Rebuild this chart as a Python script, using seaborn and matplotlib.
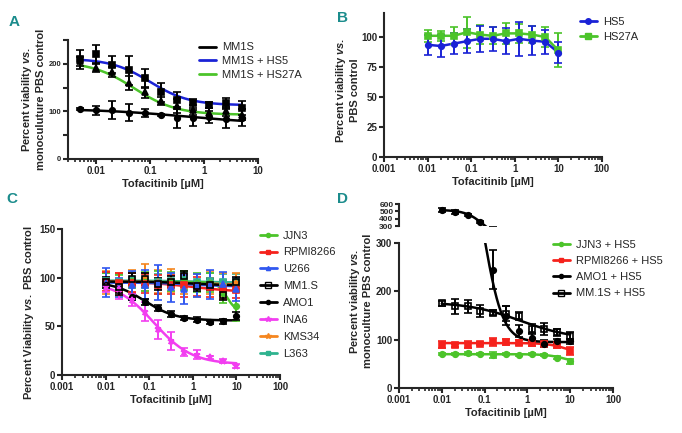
import numpy as np
import pandas as pd
import matplotlib
matplotlib.use("Agg")
import matplotlib.pyplot as plt
import seaborn as sns
from matplotlib.lines import Line2D
from matplotlib.ticker import MultipleLocator, FixedLocator

# doses (uM)
dose_a = [0.005, 0.01, 0.02, 0.04, 0.08, 0.16, 0.31, 0.625, 1.25, 2.5, 5]
dose = [0.01, 0.02, 0.04, 0.08, 0.16, 0.31, 0.625, 1.25, 2.5, 5, 10]

# panel A: mean, sem, fit (top, bottom, ec50, hill)
mm1s_mean = [105, 102, 103, 97, 96, 92, 86, 86, 88, 85, 87]
mm1s_err = [2, 9, 18, 18, 8, 2, 20, 17, 12, 20, 18]
mm1s_fit = [106, 72, 0.5, 0.5]
mm1s_hs5_mean = [210, 220, 198, 186, 170, 140, 125, 117, 113, 118, 107]
mm1s_hs5_err = [20, 20, 18, 30, 20, 20, 15, 10, 6, 10, 15]
mm1s_hs5_fit = [211, 113, 0.1, 1.2]
mm1s_hs27a_mean = [205, 192, 183, 160, 140, 122, 112, 103, 97, 100, 93]
mm1s_hs27a_err = [10, 10, 10, 15, 12, 8, 15, 10, 10, 10, 12]
mm1s_hs27a_fit = [205, 93, 0.05, 1.1]

# panel B
hs5_mean = [93.5, 92.5, 94.5, 96.5, 98.5, 98.5, 96.5, 98.5, 97, 96, 87]
hs5_err = [8.5, 9.5, 9, 10, 11, 10, 11, 14, 12, 10, 9]
hs27a_mean = [101, 101, 101, 104, 102, 101, 103, 103, 102, 100, 89]
hs27a_err = [5, 4, 7, 13, 8, 7, 9, 8, 7, 8, 14]

# panel C
jjn3_mean = [97, 95, 97, 96, 95, 96, 97, 95, 95, 84, 71]
jjn3_err = [8, 8, 8, 10, 12, 10, 10, 10, 10, 10, 15]
jjn3_fit = [95.5, 65, 6, 4]
rpmi_mean = [96, 95, 95, 94, 93, 93, 92, 91, 90, 88, 87]
rpmi_err = [10, 10, 10, 10, 10, 10, 12, 10, 10, 10, 8]
rpmi_fit = [96, 85, 1, 0.8]
u266_mean = [95, 90, 92, 93, 95, 90, 88, 92, 93, 94, 88]
u266_err = [15, 10, 15, 15, 18, 15, 15, 12, 15, 12, 12]
u266_fit = [95, 91, 1, 1]
mm1s_c_mean = [96, 90, 99, 99, 93.5, 96, 101.5, 91, 93, 82.5, 96]
mm1s_c_err = [5, 8, 6, 6, 6, 6, 5, 5, 6, 5, 5]
mm1s_c_fit = [96, 92, 1, 1]
amo1_mean = [92, 88, 80, 75, 69, 63, 59, 57, 54, 55, 61]
amo1_err = [3, 4, 3, 3, 3, 3, 2, 3, 2, 3, 4]
amo1_fit = [96, 56, 0.08, 1.2]
ina6_mean = [90, 88, 77, 65, 47, 35, 24, 21, 18, 14, 9]
ina6_err = [5, 10, 6, 10, 10, 9, 4, 5, 2, 2, 2]
ina6_fit = [96, 11, 0.13, 1.0]
kms34_mean = [95, 93, 96, 100, 96, 97, 95, 92, 95, 93, 95]
kms34_err = [12, 12, 12, 14, 12, 12, 12, 12, 12, 12, 10]
kms34_fit = [96, 93, 1, 1]
l363_mean = [97, 96, 98, 97, 96, 97, 98, 96, 97, 96, 96]
l363_err = [8, 8, 8, 8, 8, 8, 8, 8, 8, 8, 8]
l363_fit = [97, 95, 1, 1]

# panel D
jjn3_hs5_mean = [70, 70, 72, 70, 69, 70, 69, 70, 68, 63, 55]
jjn3_hs5_err = [2, 2, 3, 2, 6, 2, 2, 2, 2, 4, 5]
jjn3_hs5_fit = [70, 50, 8, 2]
rpmi_hs5_mean = [90, 88, 90, 92, 95, 95, 94, 93, 92, 88, 77]
rpmi_hs5_err = [7, 4, 8, 4, 8, 6, 5, 6, 5, 5, 8]
rpmi_hs5_fit = [93, 70, 8, 2]
amo1_hs5_mean = [515, 495, 450, 355, 245, 150, 118, 103, 92, 97, 97]
amo1_hs5_err = [25, 25, 20, 20, 40, 20, 12, 8, 8, 5, 5]
amo1_hs5_fit = [520, 95, 0.1, 2]
mm1s_hs5_d_mean = [175, 169, 169, 159, 156, 154, 149, 123, 122, 115, 108]
mm1s_hs5_d_err = [5, 15, 13, 12, 5, 15, 8, 10, 12, 7, 8]
mm1s_hs5_d_fit = [178, 100, 0.7, 0.7]

sns.set_theme(style="ticks")
plt.rcParams["font.family"] = ["Liberation Sans", "DejaVu Sans"]
plt.rcParams["mathtext.fontset"] = "custom"
plt.rcParams["mathtext.rm"] = "Liberation Sans:bold"
plt.rcParams["mathtext.it"] = "Liberation Sans:italic:bold"
plt.rcParams["axes.linewidth"] = 1.5

GREEN = "#4cc42a"
BLUE = "#1a22d6"
RED = "#f5221c"
MAGENTA = "#f23ef0"
ORANGE = "#f5861f"
TEAL = "#2fb38f"
U_BLUE = "#3158f0"
LABEL = "#1b8c8c"


def four_pl(x, p):
    top, bottom, ec50, hill = p
    return bottom + (top - bottom) / (1 + (x / ec50) ** hill)


def fit_curve(ax, xs, p, color):
    xx = np.logspace(np.log10(xs[0]), np.log10(xs[-1]), 200)
    df = pd.DataFrame({"x": xx, "y": four_pl(xx, p)})
    sns.lineplot(data=df, x="x", y="y", ax=ax, color=color, lw=1.8,
                 estimator=None, legend=False)


def points(ax, xs, mean, err, color, marker, ms=4, mfc=None, ecolor=None):
    ax.errorbar(xs, mean, yerr=err, fmt=marker, color=color, ms=ms,
                mfc=mfc if mfc else color, mec=color, mew=1.2,
                ecolor=ecolor if ecolor else color, elinewidth=1.4,
                capsize=3, capthick=1.4, linestyle="none", zorder=3)


def style(ax, xlim, ylim, yticks, yfs=7):
    ax.set_xscale("log")
    ax.set_xlim(*xlim)
    ax.set_ylim(*ylim)
    ax.yaxis.set_major_locator(FixedLocator(yticks))
    ax.set_xticks([t for t in [0.001, 0.01, 0.1, 1, 10, 100] if xlim[0] <= t <= xlim[1]])
    ax.set_xticklabels([f"{t:g}" for t in ax.get_xticks()])
    sns.despine(ax=ax)
    ax.tick_params(axis="both", which="major", width=1.5, length=3.5, pad=1.5)
    ax.tick_params(axis="x", which="minor", width=1.2, length=2)
    ax.tick_params(axis="x", labelsize=7)
    ax.tick_params(axis="y", labelsize=yfs)
    for lab in ax.get_xticklabels() + ax.get_yticklabels():
        lab.set_fontweight("bold")
    ax.set_xlabel("Tofacitinib [µM]", fontsize=8, fontweight="bold", labelpad=2)


def legend(ax, items, x, y, fs=8, spacing=0.45):
    handles = [Line2D([], [], color=c, lw=2, marker=m, ms=ms, mfc=mfc, mec=c)
               for c, m, ms, mfc in [(it[1], it[2], it[3], it[4]) for it in items]]
    ax.legend(handles, [it[0] for it in items], loc="upper left",
              bbox_to_anchor=(x, y), frameon=False, fontsize=fs,
              handlelength=1.5, handletextpad=0.6, labelspacing=spacing,
              borderaxespad=0, borderpad=0)


fig = plt.figure(figsize=(6.82, 4.33), dpi=100)

# ---- A
axA = fig.add_axes([0.0997, 0.6328, 0.2786, 0.2748])
fit_curve(axA, dose_a, mm1s_fit, "black")
fit_curve(axA, dose_a, mm1s_hs5_fit, BLUE)
fit_curve(axA, dose_a, mm1s_hs27a_fit, GREEN)
points(axA, dose_a, mm1s_mean, mm1s_err, "black", "o")
points(axA, dose_a, mm1s_hs5_mean, mm1s_hs5_err, "black", "s")
points(axA, dose_a, mm1s_hs27a_mean, mm1s_hs27a_err, "black", "^")
style(axA, (0.003, 10), (0, 250), [0, 100, 200], yfs=5.5)
axA.yaxis.set_minor_locator(MultipleLocator(50))
axA.tick_params(axis="y", which="minor", width=1.5, length=3.5)
axA.set_ylabel("Percent viability $\\mathit{vs.}$\nmonoculuture PBS control",
               fontsize=8, fontweight="bold")
axA.yaxis.set_label_coords(-0.116, 0.5)
legend(axA, [("MM1S", "black", None, 0, None),
             ("MM1S + HS5", BLUE, None, 0, None),
             ("MM1S + HS27A", GREEN, None, 0, None)], 0.69, 0.98, spacing=0.35)

# ---- B
axB = fig.add_axes([0.563, 0.6374, 0.3196, 0.3326])
for m, e, c, mk in [(hs27a_mean, hs27a_err, GREEN, "s"), (hs5_mean, hs5_err, BLUE, "o")]:
    sns.lineplot(x=dose, y=m, ax=axB, color=c, lw=1.8, estimator=None, legend=False)
    points(axB, dose, m, e, c, mk)
style(axB, (0.001, 100), (0, 120), [0, 25, 50, 75, 100])
axB.set_ylabel("Percent viability $\\mathit{vs.}$\nPBS control", fontsize=8, fontweight="bold")
axB.yaxis.set_label_coords(-0.11, 0.465)
legend(axB, [("HS5", BLUE, "o", 4, BLUE), ("HS27A", GREEN, "s", 4, GREEN)], 0.9, 0.97)

# ---- C
axC = fig.add_axes([0.0909, 0.134, 0.3196, 0.337])
c_series = [
    (l363_mean, l363_err, l363_fit, TEAL, "s", 4, None),
    (kms34_mean, kms34_err, kms34_fit, ORANGE, "*", 5, None),
    (jjn3_mean, jjn3_err, jjn3_fit, GREEN, "o", 4, None),
    (rpmi_mean, rpmi_err, rpmi_fit, RED, "s", 4, None),
    (u266_mean, u266_err, u266_fit, U_BLUE, "^", 4, None),
    (amo1_mean, amo1_err, amo1_fit, "black", "o", 4, None),
    (ina6_mean, ina6_err, ina6_fit, MAGENTA, "*", 5, None),
    (mm1s_c_mean, mm1s_c_err, mm1s_c_fit, "black", "s", 5, "none"),
]
for m, e, p, c, mk, ms, mfc in c_series:
    fit_curve(axC, dose, p, c)
    points(axC, dose, m, e, c, mk, ms=ms, mfc=mfc)
style(axC, (0.001, 100), (0, 150), [0, 50, 100, 150])
axC.set_ylabel("Percent Viability $\\mathit{vs.}$ PBS control", fontsize=8, fontweight="bold")
axC.yaxis.set_label_coords(-0.12, 0.43)
legend(axC, [("JJN3", GREEN, "o", 3, GREEN), ("RPMI8266", RED, "s", 3, RED),
             ("U266", U_BLUE, "^", 3, U_BLUE), ("MM1.S", "black", "s", 4, "none"),
             ("AMO1", "black", "o", 3, "black"), ("INA6", MAGENTA, "*", 4, MAGENTA),
             ("KMS34", ORANGE, "*", 4, ORANGE), ("L363", TEAL, "s", 3, TEAL)],
       0.908, 0.99, spacing=0.62)

# ---- D (broken axis)
axD = fig.add_axes([0.585, 0.1039, 0.3138, 0.3349])
axDt = fig.add_axes([0.585, 0.478, 0.3138, 0.0508])
d_series = [
    (jjn3_hs5_mean, jjn3_hs5_err, jjn3_hs5_fit, GREEN, "o", 4, None),
    (rpmi_hs5_mean, rpmi_hs5_err, rpmi_hs5_fit, RED, "s", 4, None),
    (mm1s_hs5_d_mean, mm1s_hs5_d_err, mm1s_hs5_d_fit, "black", "s", 5, "none"),
    (amo1_hs5_mean, amo1_hs5_err, amo1_hs5_fit, "black", "o", 4, None),
]
for m, e, p, c, mk, ms, mfc in d_series:
    fit_curve(axD, dose, p, c)
    points(axD, dose, m, e, c, mk, ms=ms, mfc=mfc)
fit_curve(axDt, dose, amo1_hs5_fit, "black")
points(axDt, dose, amo1_hs5_mean, amo1_hs5_err, "black", "o")
style(axD, (0.001, 100), (0, 300), [0, 100, 200, 300])
axD.set_ylabel("Percent viability $\\mathit{vs.}$\nmonoculture PBS control",
               fontsize=8, fontweight="bold")
axD.yaxis.set_label_coords(-0.12, 0.6)
axDt.set_xscale("log")
axDt.set_xlim(0.001, 100)
axDt.set_ylim(300, 600)
axDt.set_yticks([300, 400, 500, 600])
axDt.set_yticklabels(["300", "400", "500", "600"], fontsize=6, fontweight="bold")
axDt.tick_params(axis="y", width=1.5, length=3, pad=1)
axDt.set_xticks([])
axDt.minorticks_off()
axDt.set_xlabel("")
axDt.set_ylabel("")
sns.despine(ax=axDt, bottom=True)
legend(axD, [("JJN3 + HS5", GREEN, "o", 3, GREEN), ("RPMI8266 + HS5", RED, "s", 3, RED),
             ("AMO1 + HS5", "black", "o", 3, "black"),
             ("MM.1S + HS5", "black", "s", 4, "none")], 0.72, 1.02, spacing=0.55)

# panel letters
for letter, x, y in [("A", 0.012, 0.95), ("B", 0.494, 0.958), ("C", 0.01, 0.54), ("D", 0.494, 0.54)]:
    fig.text(x, y, letter, color=LABEL, fontsize=11, fontweight="bold",
             family=["Liberation Sans Narrow", "Liberation Sans"], ha="left", va="center")

fig.savefig("out.png", dpi=100, facecolor="white")
